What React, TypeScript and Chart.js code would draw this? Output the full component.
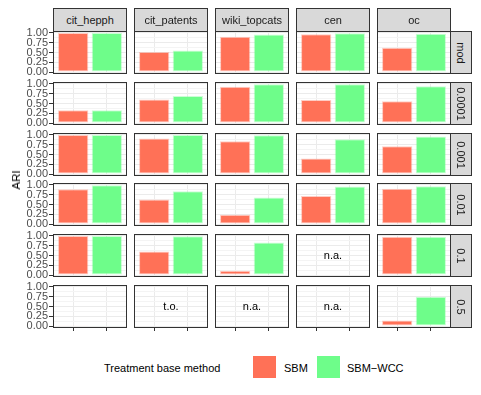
import React, { useEffect, useRef } from 'react';
import { Chart, registerables } from 'chart.js';

Chart.register(...registerables);
Chart.defaults.font.family = "'Liberation Sans', Arial, Helvetica, sans-serif";

// ---------- data ----------
const columns = ['cit_hepph', 'cit_patents', 'wiki_topcats', 'cen', 'oc'];
const rowLabels = ['mod', '0.0001', '0.001', '0.01', '0.1', '0.5'];
const methods = ['SBM', 'SBM−WCC'];
const methodPositions = [1, 2];
const yTickValues = [0, 0.125, 0.25, 0.375, 0.5, 0.625, 0.75, 0.875, 1];

// SBM ARI per row (columns order above); null = no result
const sbmMod = [1.0, 0.51, 0.9, 0.97, 0.62];
const sbm0001 = [0.33, 0.6, 0.93, 0.59, 0.56];
const sbm001 = [1.0, 0.91, 0.84, 0.4, 0.71];
const sbm01 = [0.89, 0.63, 0.24, 0.72, 0.9];
const sbm1 = [1.0, 0.6, 0.11, null, 0.98];
const sbm5 = [0.01, null, null, null, 0.14];

// SBM-WCC ARI per row
const wccMod = [1.0, 0.55, 0.96, 0.99, 0.98];
const wcc0001 = [0.33, 0.69, 0.99, 0.99, 0.94];
const wcc001 = [1.0, 1.0, 0.99, 0.89, 0.96];
const wcc01 = [0.99, 0.84, 0.68, 0.96, 0.97];
const wcc1 = [1.0, 0.99, 0.83, null, 0.98];
const wcc5 = [0.01, null, null, null, 0.75];

// annotations for missing results
const noteMod = [null, null, null, null, null];
const note0001 = [null, null, null, null, null];
const note001 = [null, null, null, null, null];
const note01 = [null, null, null, null, null];
const note1 = [null, null, null, 'n.a.', null];
const note5 = [null, 't.o.', 'n.a.', 'n.a.', null];

const sbmRows = [sbmMod, sbm0001, sbm001, sbm01, sbm1, sbm5];
const wccRows = [wccMod, wcc0001, wcc001, wcc01, wcc1, wcc5];
const noteRows = [noteMod, note0001, note001, note01, note1, note5];

// ---------- layout / style ----------
const COL_LEFT = [53, 134, 215, 296, 377];
const ROW_TOP = [31, 82, 133, 183, 234, 285];
const PW = 74;
const PH = 43;
const YAXIS_W = 53;
const PAD = 8;
const XAXIS_H = 4;
const STRIP_TOP = 8;
const STRIP_H = 24;
const RSTRIP_W = 22;

const SBM_COLOR = '#FF7157';
const WCC_COLOR = '#6EFD8A';
const SBM_EDGE = 'rgba(255,113,87,0.35)';
const WCC_EDGE = 'rgba(110,253,138,0.35)';
const FONT = "'Liberation Sans', Arial, Helvetica, sans-serif";

const isMajor = (v: number) => Math.abs(v * 4 - Math.round(v * 4)) < 1e-9;

const framePlugin = {
  id: 'panelFrame',
  afterDatasetsDraw(chart: any, _args: any, opts: any) {
    if (opts && opts.note) {
      const ctx = chart.ctx;
      ctx.save();
      ctx.fillStyle = '#000000';
      ctx.font = `11px ${FONT}`;
      ctx.textAlign = 'center';
      ctx.textBaseline = 'middle';
      ctx.fillText(opts.note, chart.scales.x.getPixelForValue(1.5), chart.scales.y.getPixelForValue(0.5));
      ctx.restore();
    }
  },
  afterDraw(chart: any) {
    const { left, top, width, height } = chart.chartArea;
    const ctx = chart.ctx;
    ctx.save();
    ctx.strokeStyle = '#333333';
    ctx.lineWidth = 1;
    ctx.strokeRect(left + 0.5, top + 0.5, width - 1, height - 1);
    ctx.restore();
  },
};

function Panel({ r, c }: { r: number; c: number }) {
  const ref = useRef<HTMLCanvasElement | null>(null);
  const isLeft = c === 0;
  const isBottom = r === rowLabels.length - 1;
  const left = isLeft ? 0 : COL_LEFT[c];
  const width = isLeft ? COL_LEFT[0] + PW : PW;
  const top = ROW_TOP[r] - PAD;
  const height = PH + 2 * PAD;

  useEffect(() => {
    if (!ref.current) return;
    const sv = sbmRows[r][c];
    const wv = wccRows[r][c];
    const chart = new Chart(ref.current, {
      type: 'bar',
      data: {
        datasets: [
          {
            label: methods[0],
            data: sv === null ? [] : [{ x: methodPositions[0], y: sv }],
            backgroundColor: SBM_COLOR,
            borderColor: SBM_EDGE,
          },
          {
            label: methods[1],
            data: wv === null ? [] : [{ x: methodPositions[1], y: wv }],
            backgroundColor: WCC_COLOR,
            borderColor: WCC_EDGE,
          },
        ],
      },
      options: {
        responsive: false,
        animation: false,
        devicePixelRatio: 1,
        datasets: {
          bar: {
            grouped: false,
            barPercentage: 0.9,
            categoryPercentage: 1,
            borderWidth: 1,
            borderSkipped: false,
          },
        },
        layout: { padding: { top: PAD, bottom: isBottom ? PAD - XAXIS_H : PAD, left: 0, right: 0 } },
        plugins: {
          legend: { display: false },
          tooltip: { enabled: false },
          panelFrame: { note: noteRows[r][c] },
        },
        scales: {
          x: {
            type: 'linear',
            min: 0.4,
            max: 2.6,
            offset: false,
            afterBuildTicks: (s: any) => {
              s.ticks = methodPositions.map((v) => ({ value: v }));
            },
            afterFit: (s: any) => {
              s.height = isBottom ? XAXIS_H : 0;
            },
            ticks: { display: false, autoSkip: false },
            border: { display: false },
            grid: {
              offset: false,
              color: '#EBEBEB',
              lineWidth: 1,
              drawTicks: isBottom,
              tickLength: 3,
              tickColor: '#333333',
              tickWidth: 1,
            },
          },
          y: {
            type: 'linear',
            min: -0.05,
            max: 1.05,
            afterBuildTicks: (s: any) => {
              s.ticks = yTickValues.map((v) => ({ value: v }));
            },
            afterFit: (s: any) => {
              s.width = isLeft ? YAXIS_W : 0;
            },
            ticks: {
              display: isLeft,
              autoSkip: false,
              padding: 1,
              color: '#4D4D4D',
              font: { size: 11, family: FONT },
              callback: (v: any) => (isMajor(Number(v)) ? Number(v).toFixed(2) : ''),
            },
            border: { display: false },
            grid: {
              color: (ctx: any) => (ctx.tick && isMajor(ctx.tick.value) ? '#EBEBEB' : '#F4F4F4'),
              lineWidth: 1,
              drawTicks: isLeft,
              tickLength: 4,
              tickColor: (ctx: any) => (ctx.tick && isMajor(ctx.tick.value) ? '#333333' : 'rgba(0,0,0,0)'),
              tickWidth: 1,
            },
          },
        },
      },
      plugins: [framePlugin],
    } as any);
    return () => chart.destroy();
  }, [r, c]);

  return (
    <canvas
      ref={ref}
      width={width}
      height={height}
      style={{ position: 'absolute', left, top, width, height }}
    />
  );
}

const stripStyle: React.CSSProperties = {
  position: 'absolute',
  background: '#D9D9D9',
  border: '1px solid #333333',
  boxSizing: 'border-box',
  display: 'flex',
  alignItems: 'center',
  justifyContent: 'center',
  fontFamily: FONT,
  fontSize: 11,
  color: '#1A1A1A',
  whiteSpace: 'nowrap',
};

export default function App() {
  return (
    <div
      style={{
        position: 'absolute',
        left: 0,
        top: 0,
        width: 481,
        height: 395,
        background: '#FFFFFF',
        fontFamily: FONT,
        overflow: 'hidden',
      }}
    >
      {rowLabels.map((_, r) => columns.map((__, c) => <Panel key={`${r}-${c}`} r={r} c={c} />))}

      {columns.map((name, c) => (
        <div key={name} style={{ ...stripStyle, left: COL_LEFT[c], top: STRIP_TOP, width: PW, height: STRIP_H }}>
          {name}
        </div>
      ))}

      {rowLabels.map((name, r) => (
        <div
          key={name}
          style={{ ...stripStyle, left: COL_LEFT[4] + PW - 1, top: ROW_TOP[r], width: RSTRIP_W, height: PH }}
        >
          <span style={{ display: 'inline-block', transform: 'rotate(90deg)' }}>{name}</span>
        </div>
      ))}

      <div
        style={{
          position: 'absolute',
          left: 16,
          top: 180,
          transform: 'translate(-50%, -50%) rotate(-90deg)',
          fontSize: 11.5,
          color: '#000000',
          whiteSpace: 'nowrap',
        }}
      >
        ARI
      </div>

      <div
        style={{
          position: 'absolute',
          left: 104,
          top: 368,
          transform: 'translateY(-50%)',
          fontSize: 11,
          color: '#000000',
          whiteSpace: 'nowrap',
        }}
      >
        Treatment base method
      </div>

      {methods.map((m, i) => (
        <React.Fragment key={m}>
          <div
            style={{
              position: 'absolute',
              left: i === 0 ? 253 : 317,
              top: 356,
              width: 23,
              height: 22,
              boxSizing: 'border-box',
              background: i === 0 ? SBM_COLOR : WCC_COLOR,
              border: `1px solid ${i === 0 ? SBM_EDGE : WCC_EDGE}`,
            }}
          />
          <div
            style={{
              position: 'absolute',
              left: i === 0 ? 284 : 347,
              top: 368,
              transform: 'translateY(-50%)',
              fontSize: 11,
              color: '#000000',
              whiteSpace: 'nowrap',
            }}
          >
            {m}
          </div>
        </React.Fragment>
      ))}
    </div>
  );
}
